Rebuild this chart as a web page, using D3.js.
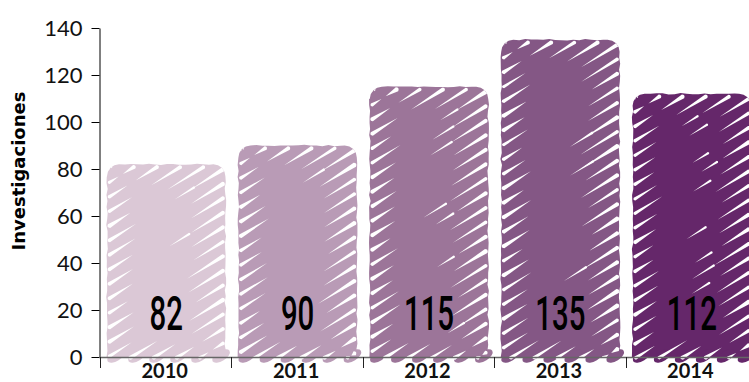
<!DOCTYPE html>
<html>
<head>
<meta charset="utf-8">
<script src="https://cdn.jsdelivr.net/npm/d3@7"></script>
<style>
  html, body { margin: 0; padding: 0; background: #fff; }
  svg { display: block; }
</style>
</head>
<body>
<svg id="chart" width="749" height="382"></svg>
<script>
// Investigations per year
const years = ["2010", "2011", "2012", "2013", "2014"];
const investigations = [82, 90, 115, 135, 112];
const barColors = ["#dbc8d6", "#b99bb6", "#9c7599", "#845785", "#65276a"];
const yTicks = [0, 20, 40, 60, 80, 100, 120, 140];
const yTitle = "Investigaciones";

const svg = d3.select("#chart");

const x = d3.scaleBand().domain(years).range([100, 757]);
const y = d3.scaleLinear().domain([0, 140]).range([357, 28]);

// deterministic texture offsets for the hand-drawn look
function jitter(k, seed) {
  const v = Math.sin(k * 12.9898 + seed * 78.233) * 43758.5453;
  return v - Math.floor(v);
}

const defs = svg.append("defs");
const angle = 32 * Math.PI / 180;
const tn = Math.tan(angle), cs = Math.cos(angle), sn = Math.sin(angle);

// rounded-top bar outline with a slightly wobbly, hand-drawn edge
function barPath(x0, x1, yt, yb, seed, amp) {
  const r = 12;
  const pts = [];
  const wob = (k) => (jitter(k, seed) - 0.5) * 2 * amp;
  let k = 0;
  for (let yy = yb; yy > yt + r; yy -= 6) pts.push([x0 + wob(k++), yy]);
  for (let a = 0; a <= 1.001; a += 0.25) {
    const t = Math.PI + a * Math.PI / 2;
    pts.push([x0 + r + r * Math.cos(t), yt + r + r * Math.sin(t)]);
  }
  for (let xx = x0 + r + 6; xx < x1 - r; xx += 6) pts.push([xx, yt + wob(k++)]);
  for (let a = 0; a <= 1.001; a += 0.25) {
    const t = -Math.PI / 2 + a * Math.PI / 2;
    pts.push([x1 - r + r * Math.cos(t), yt + r + r * Math.sin(t)]);
  }
  for (let yy = yt + r + 6; yy < yb; yy += 6) pts.push([x1 + wob(k++), yy]);
  pts.push([x1, yb]);
  return d3.line().curve(d3.curveLinearClosed)(pts);
}

// white gap: wide at the "edge" end, tapering to a point at the other end
function wedge(px, py, ex, ey, w) {
  const dx = ex - px, dy = ey - py, len = Math.hypot(dx, dy) || 1;
  const nx = -dy / len * w / 2, ny = dx / len * w / 2;
  const ux = dx / len, uy = dy / len;
  return `M${px},${py} L${ex + nx},${ey + ny} Q${ex + ux * w * 0.7},${ey + uy * w * 0.7} ${ex - nx},${ey - ny} Z`;
}

const bars = svg.append("g");

years.forEach((yr, i) => {
  const x0 = x(yr) + 7;
  const x1 = x(yr) + x.bandwidth() - 6;
  const yt = y(investigations[i]);
  const yb = y(0);
  const col = barColors[i];
  const g = bars.append("g");

  defs.append("clipPath").attr("id", "clip" + i)
    .append("path").attr("d", barPath(x0, x1, yt, yb + 6, i + 1, 0.8));

  g.append("path").attr("d", barPath(x0, x1, yt, yb, i + 1, 0.8)).attr("fill", col);

  // rounded stroke ends along the bottom
  for (let bx = x0 + 9; bx < x1 - 4; bx += 21) {
    g.append("ellipse")
      .attr("cx", bx).attr("cy", yb - 1)
      .attr("rx", 10).attr("ry", 5)
      .attr("transform", `rotate(-32 ${bx} ${yb - 1})`)
      .attr("fill", col);
  }

  // white hachure gaps
  const hg = g.append("g").attr("clip-path", `url(#clip${i})`).attr("fill", "#fff");
  const step = 14.5;
  let k = 0;
  for (let c = yt + 5; c < yb + tn * (x1 - x0) + step; c += step, k++) {
    const lx0 = x0 + 2, lx1 = x1 - 2, ty = yt + 2.5, by = yb + 1;
    const lineY = xx => c - tn * (xx - x0);
    const xin = Math.max(lx0, x0 + (c - by) / tn);
    const xout = Math.min(lx1, x0 + (c - ty) / tn);
    if (xout <= xin + 2) continue;
    const L = (xout - xin) / cs;
    const f1 = jitter(k + i * 31, 1), f2 = jitter(k + i * 31, 2), f3 = jitter(k + i * 31, 3);
    const w1 = 3.2 + f2 * 1.2, w2 = 3.4 + f1 * 1.2;
    const l1 = Math.min(22 + 12 * f1, L * 0.38);
    const l2 = Math.min(30 + 14 * f2, L * 0.45);
    // entry mark: wide at the lower-left edge
    const ax = xin, ay = lineY(xin);
    hg.append("path").attr("d", wedge(ax + l1 * cs, ay - l1 * sn, ax, ay, w1));
    // exit mark: wide at the upper-right edge
    const ex = xout, ey = lineY(xout);
    hg.append("path").attr("d", wedge(ex - l2 * cs, ey + l2 * sn, ex, ey, w2));
    // occasional mark in the middle
    if (f3 > 0.75 && L > 90) {
      const s = L * (0.45 + 0.15 * f1), lm = 18 + 10 * f2;
      const mx = xin + s * cs, my = lineY(mx);
      hg.append("path").attr("d", wedge(mx, my, mx + lm * cs, my - lm * sn, 2.4));
    }
  }

  // value label
  svg.append("text")
    .attr("transform", `translate(${(x0 + x1) / 2},330) scale(0.6,1)`)
    .attr("text-anchor", "middle")
    .attr("font-family", "Roboto, 'Noto Sans', sans-serif")
    .attr("font-weight", 500)
    .attr("font-size", 49)
    .attr("fill", "#000")
    .text(investigations[i]);
});

// y axis
const yAxis = svg.append("g")
  .attr("transform", "translate(99.5,0)")
  .call(d3.axisLeft(y).tickValues(yTicks).tickSize(8).tickSizeOuter(0).tickPadding(9));
yAxis.select(".domain").attr("stroke", "#000");
yAxis.selectAll(".tick line").attr("stroke", "#000");
yAxis.selectAll(".tick text")
  .attr("font-family", "Lato, 'Noto Sans', sans-serif")
  .attr("font-size", 22)
  .attr("fill", "#111");

// x axis: baseline, boundary ticks and year labels
svg.append("line")
  .attr("x1", 99).attr("x2", 749)
  .attr("y1", y(0) + 0.5).attr("y2", y(0) + 0.5)
  .attr("stroke", "#666").attr("stroke-width", 1.5);

svg.append("g").selectAll("line")
  .data(years)
  .join("line")
  .attr("x1", d => Math.round(x(d)) + 0.5).attr("x2", d => Math.round(x(d)) + 0.5)
  .attr("y1", y(0)).attr("y2", y(0) + 11)
  .attr("stroke", "#222");

svg.append("g").selectAll("text")
  .data(years)
  .join("text")
  .attr("x", d => x(d) + x.bandwidth() / 2 - 1)
  .attr("y", 378)
  .attr("text-anchor", "middle")
  .attr("font-family", "Lato, 'Noto Sans', sans-serif")
  .attr("font-weight", 700)
  .attr("font-size", 20)
  .attr("fill", "#111")
  .text(d => d);

// y axis title
svg.append("text")
  .attr("transform", "translate(25,171) rotate(-90)")
  .attr("text-anchor", "middle")
  .attr("font-family", "'DejaVu Sans', sans-serif")
  .attr("font-weight", 700)
  .attr("font-size", 18)
  .attr("fill", "#000")
  .text(yTitle);
</script>
</body>
</html>
